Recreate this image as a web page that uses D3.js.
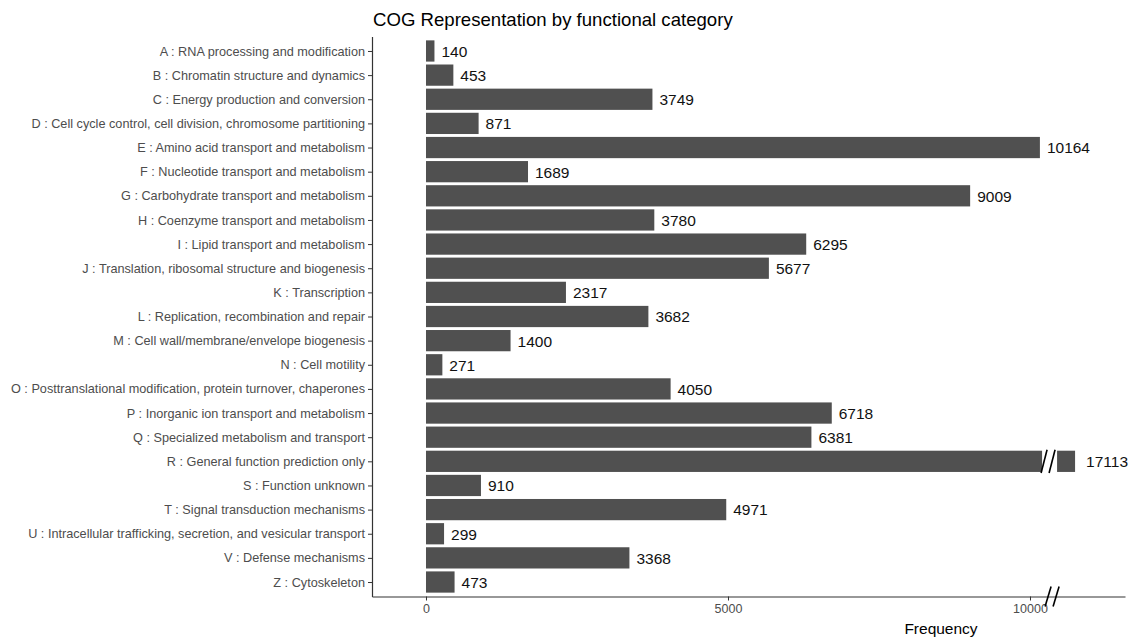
<!DOCTYPE html>
<html><head><meta charset="utf-8">
<script src="https://cdn.jsdelivr.net/npm/d3@7"></script>
<style>body{margin:0;background:#fff;} text{font-family:Arial,"Liberation Sans",sans-serif;}</style>
</head><body>
<svg id="c" width="1129" height="639"></svg>
<script>
const categories = [
"A : RNA processing and modification",
"B : Chromatin structure and dynamics",
"C : Energy production and conversion",
"D : Cell cycle control, cell division, chromosome partitioning",
"E : Amino acid transport and metabolism",
"F : Nucleotide transport and metabolism",
"G : Carbohydrate transport and metabolism",
"H : Coenzyme transport and metabolism",
"I : Lipid transport and metabolism",
"J : Translation, ribosomal structure and biogenesis",
"K : Transcription",
"L : Replication, recombination and repair",
"M : Cell wall/membrane/envelope biogenesis",
"N : Cell motility",
"O : Posttranslational modification, protein turnover, chaperones",
"P : Inorganic ion transport and metabolism",
"Q : Specialized metabolism and transport",
"R : General function prediction only",
"S : Function unknown",
"T : Signal transduction mechanisms",
"U : Intracellular trafficking, secretion, and vesicular transport",
"V : Defense mechanisms",
"Z : Cytoskeleton"];
const values = [140,453,3749,871,10164,1689,9009,3780,6295,5677,2317,3682,1400,271,4050,6718,6381,17113,910,4971,299,3368,473];
const xTicks = [0,5000,10000];
const axisBreak = [10200, 16815]; // values hidden by the axis break
const xDomain = [-894, 17940];

const svg = d3.select("#c");
const L = 372, R = 1125, T = 36.5, B = 596.5, gap = 15;

// piecewise scale with a gap
const lowEnd = L + (axisBreak[0]-xDomain[0])*0.0604;
const x = d3.scaleLinear()
  .domain([xDomain[0], axisBreak[0], axisBreak[1], xDomain[1]])
  .range([L, lowEnd, lowEnd+gap, R]);
const y = d3.scalePoint().domain(categories).range([T,B]).padding(0.6);
const bh = y.step()*0.88;

const data = categories.map((c,i)=>({c, v:values[i]}));

// bars
const g = svg.append("g");
data.forEach(d=>{
  const yc = y(d.c);
  if (d.v > axisBreak[0]) {
    g.append("rect").attr("x",x(0)).attr("y",yc-bh/2).attr("width",x(axisBreak[0])-x(0)).attr("height",bh).attr("fill","#505050");
    g.append("rect").attr("x",x(axisBreak[1])).attr("y",yc-bh/2).attr("width",x(d.v)-x(axisBreak[1])).attr("height",bh).attr("fill","#505050");
    const gx = x(axisBreak[0]);
    [0,8].forEach(o=>{
      g.append("line").attr("x1",gx+o-1).attr("y1",yc+bh/2+1).attr("x2",gx+o+5).attr("y2",yc-bh/2-1)
        .attr("stroke","#000").attr("stroke-width",1.6);
    });
    g.append("text").attr("x",x(d.v)+11).attr("y",yc).attr("dy","0.38em").attr("font-size",15.5).attr("fill","#111").text(d.v);
  } else {
    g.append("rect").attr("x",x(0)).attr("y",yc-bh/2).attr("width",x(d.v)-x(0)).attr("height",bh).attr("fill","#505050");
    g.append("text").attr("x",x(d.v)+7).attr("y",yc).attr("dy","0.38em").attr("font-size",15.5).attr("fill","#111").text(d.v);
  }
});

// axes
const xa = svg.append("g").attr("transform",`translate(0,${B})`)
  .call(d3.axisBottom(x).tickValues(xTicks).tickFormat(d3.format("d")).tickSize(4).tickSizeOuter(0).tickPadding(4));
xa.select(".domain").attr("stroke","#333").attr("stroke-width",1.2);
xa.selectAll(".tick line").attr("stroke","#333");
xa.selectAll(".tick text").attr("fill","#4d4d4d").attr("font-size",12.5).attr("font-family","Arial,'Liberation Sans',sans-serif");

const ya = svg.append("g").attr("transform",`translate(${L},0)`)
  .call(d3.axisLeft(y).tickSize(4).tickSizeOuter(0).tickPadding(3));
ya.select(".domain").attr("stroke","#333").attr("stroke-width",1.2);
ya.selectAll(".tick line").attr("stroke","#333");
ya.selectAll(".tick text").attr("fill","#4d4d4d").attr("font-size",12.7).attr("font-family","Arial,'Liberation Sans',sans-serif");

// axis break marks
const ax = x(axisBreak[0]);
[6,14].forEach(o=>{
  svg.append("line").attr("x1",ax+o-3).attr("y1",B+10).attr("x2",ax+o+3).attr("y2",B-10)
    .attr("stroke","#000").attr("stroke-width",1.6);
});

// titles
svg.append("text").attr("x",373).attr("y",26).attr("font-size",18.6).attr("fill","#000").text("COG Representation by functional category");
svg.append("text").attr("x",941).attr("y",634).attr("text-anchor","middle").attr("font-size",15.5).attr("fill","#000").text("Frequency");
</script>
</body></html>
